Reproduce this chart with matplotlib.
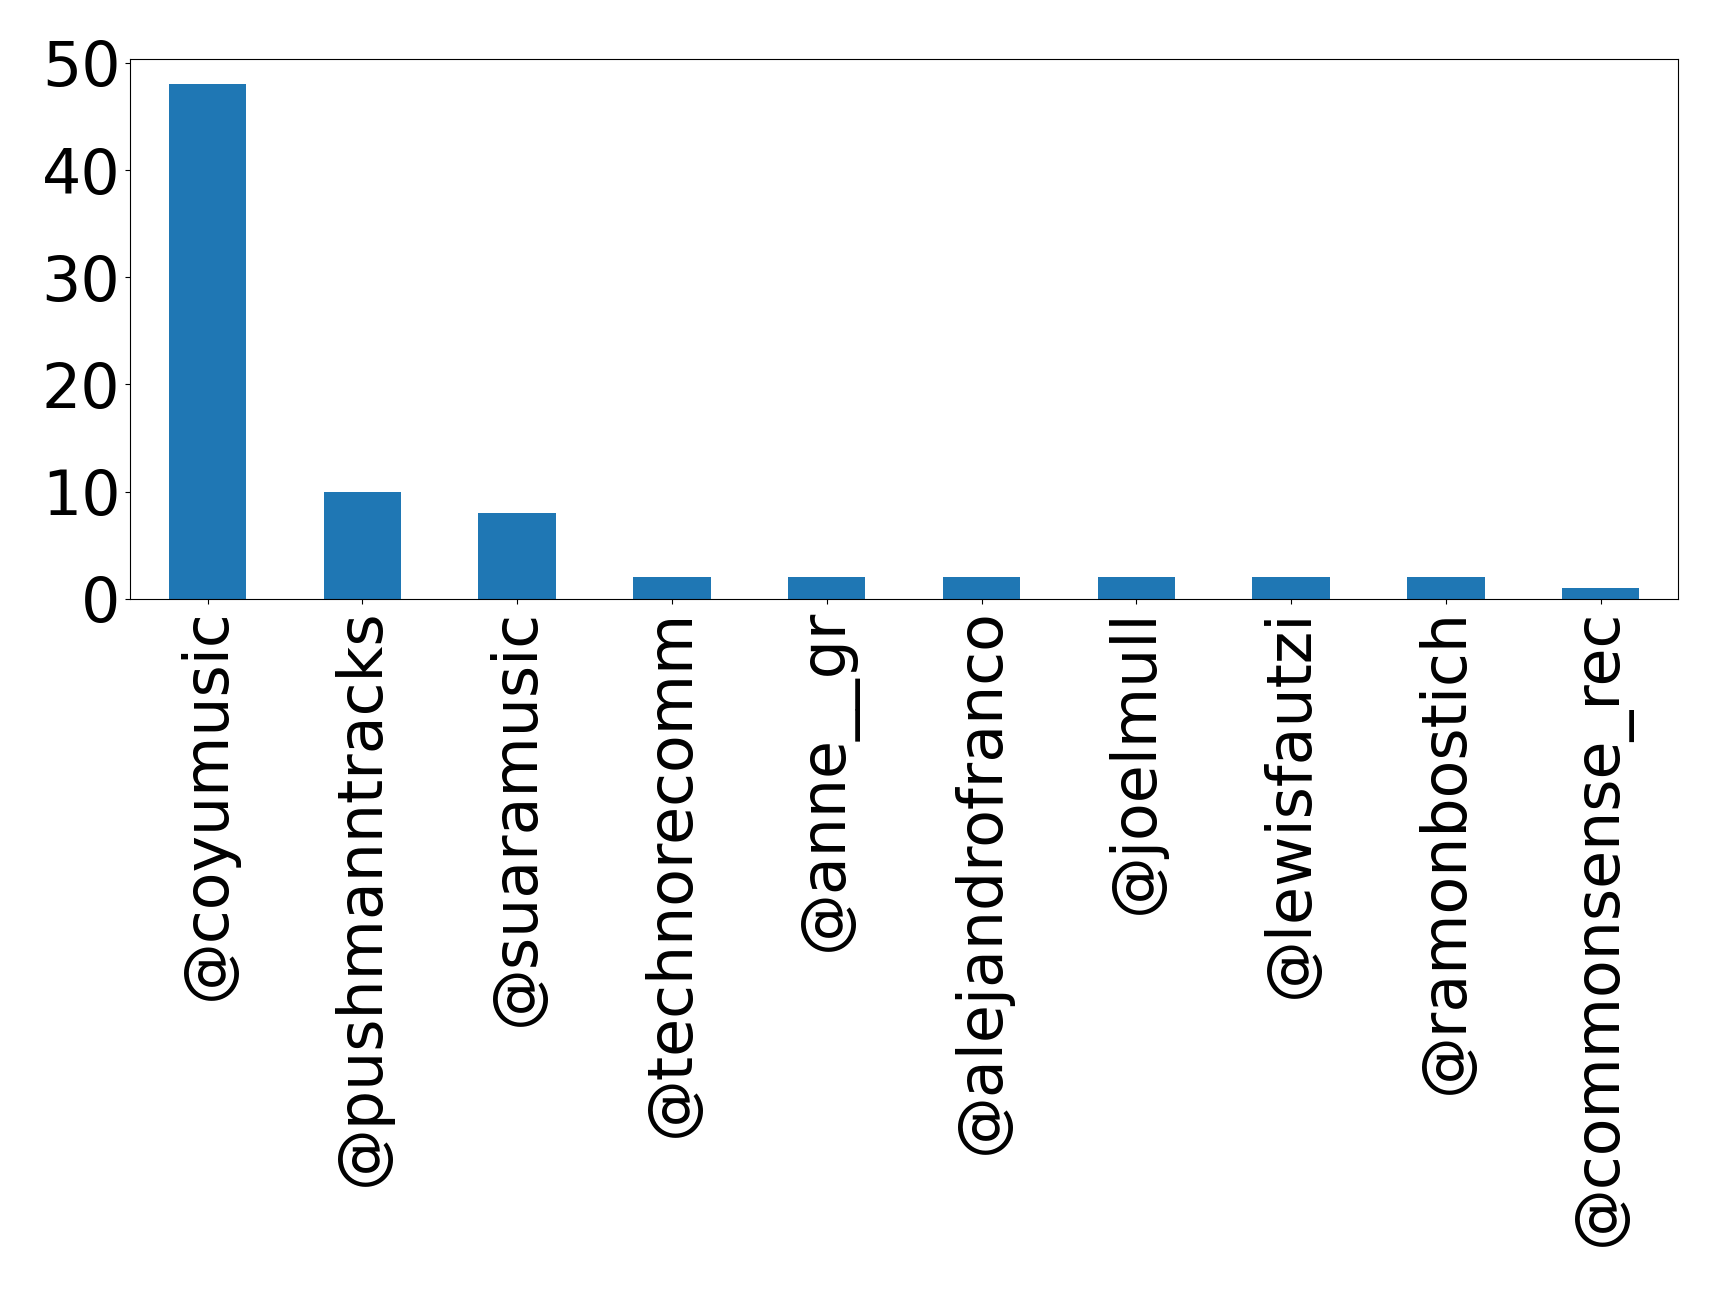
import matplotlib
matplotlib.use("Agg")
import matplotlib.pyplot as plt
import numpy as np

# accounts and mention counts
accounts = ["@coyumusic", "@pushmanntracks", "@suaramusic", "@technorecomm",
            "@anne__gr", "@alejandrofranco", "@joelmull", "@lewisfautzi",
            "@ramonbostich", "@commonsense_rec"]
counts = [48, 10, 8, 2, 2, 2, 2, 2, 2, 1]
yticks = [0, 10, 20, 30, 40, 50]

fig = plt.figure(figsize=(17.19, 12.92), dpi=100)
ax = fig.add_axes([0.0757, 0.5366, 0.9005, 0.418])

x = np.arange(len(accounts))
ax.bar(x, counts, width=0.5, color="#1f77b4")
ax.set_xlim(-0.5, len(accounts) - 0.5)
ax.set_xticks(x)
ax.set_xticklabels(accounts, rotation=90)
ax.set_yticks(yticks)
ax.tick_params(labelsize=44.5)

fig.savefig("out.png", dpi=100)
